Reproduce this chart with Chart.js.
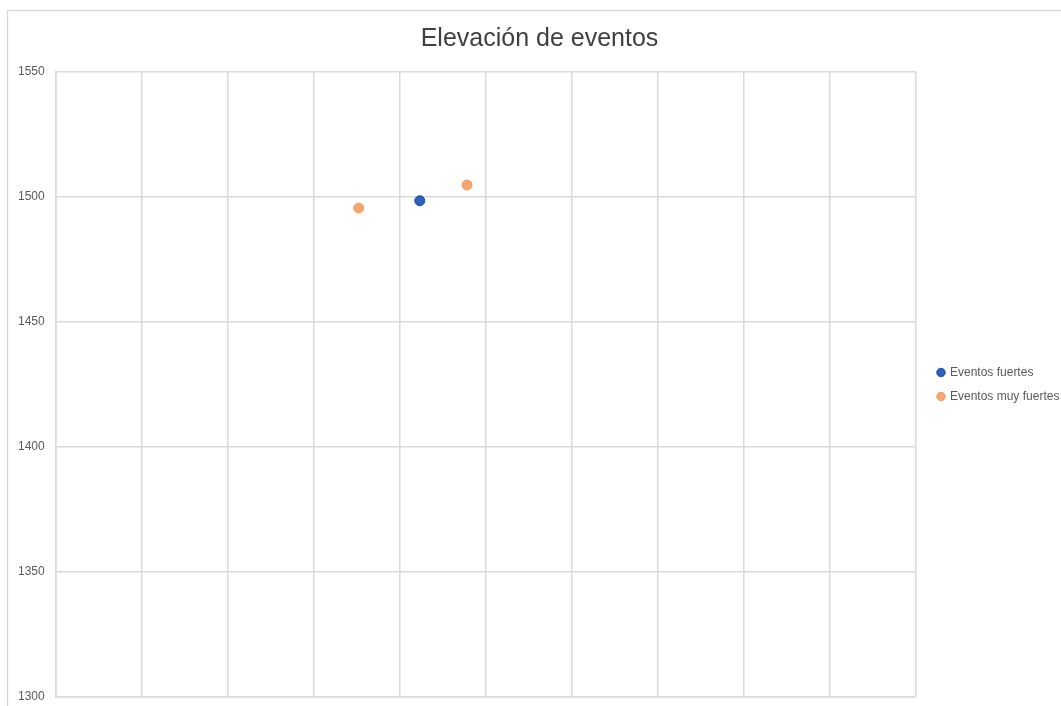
<!DOCTYPE html>
<html lang="es">
<head>
<meta charset="utf-8">
<title>Elevación de eventos</title>
<script src="https://cdn.jsdelivr.net/npm/chart.js@4.4.1/dist/chart.umd.min.js"></script>
<style>
  html, body { margin: 0; padding: 0; background: #ffffff; }
  canvas { display: block; }
</style>
</head>
<body>
<canvas id="elevacion" width="1061" height="706"></canvas>
<script>
// elevation per event (x = position, y = elevation)
const fuertesX = [4.23];
const fuertesY = [1498.5];
const muyFuertesX = [3.52, 4.78];
const muyFuertesY = [1495.6, 1504.8];
const yTicks = [1300, 1350, 1400, 1450, 1500, 1550];

const gridColor = "#d9d9d9";
const textColor = "#595959";
const fontFamily = "'Liberation Sans', Arial, sans-serif";

const toPoints = (xs, ys) => xs.map((x, i) => ({ x: x, y: ys[i] }));

// light frame around the whole chart
const chartFrame = {
  id: "chartFrame",
  beforeDraw(chart) {
    const ctx = chart.ctx;
    ctx.save();
    ctx.strokeStyle = "#d6d6d6";
    ctx.lineWidth = 1.3;
    ctx.strokeRect(7.5, 10.5, chart.width + 20, chart.height + 20);
    ctx.restore();
  },
};

const ctx = document.getElementById("elevacion").getContext("2d");

new Chart(ctx, {
  type: "scatter",
  data: {
    datasets: [
      {
        label: "Eventos fuertes",
        data: toPoints(fuertesX, fuertesY),
        backgroundColor: "#2e60b8",
        borderColor: "#224c98",
        borderWidth: 1,
        pointRadius: 5,
      },
      {
        label: "Eventos muy fuertes",
        data: toPoints(muyFuertesX, muyFuertesY),
        backgroundColor: "#f1a774",
        borderColor: "#eb9c66",
        borderWidth: 1,
        pointRadius: 5,
      },
    ],
  },
  options: {
    responsive: false,
    animation: false,
    layout: {
      padding: { left: 18, top: 0, right: 0, bottom: 9 },
    },
    plugins: {
      title: {
        display: true,
        text: "Elevación de eventos",
        color: "#404040",
        font: { family: fontFamily, size: 25, weight: "normal" },
        padding: { top: 24, bottom: 18 },
      },
      legend: {
        position: "right",
        fullSize: false,
        maxWidth: 135,
        labels: {
          usePointStyle: true,
          pointStyle: "circle",
          boxWidth: 6,
          boxHeight: 6,
          padding: 12,
          color: textColor,
          font: { family: fontFamily, size: 12 },
        },
      },
      tooltip: { enabled: false },
    },
    scales: {
      x: {
        type: "linear",
        min: 0,
        max: 10,
        ticks: { display: false, stepSize: 1 },
        grid: { color: gridColor, lineWidth: 1.5, drawTicks: false },
        border: { color: gridColor, width: 1.5 },
        afterFit: (scale) => {
          scale.height = 0;
        },
      },
      y: {
        min: yTicks[0],
        max: yTicks[yTicks.length - 1],
        afterBuildTicks: (scale) => {
          scale.ticks = yTicks.map((v) => ({ value: v }));
        },
        ticks: {
          padding: 0,
          crossAlign: "far",
          color: textColor,
          font: { family: fontFamily, size: 12 },
          callback: (value) => String(value),
        },
        grid: { color: gridColor, lineWidth: 1.5, drawTicks: false },
        border: { color: gridColor, width: 1.5 },
        afterFit: (scale) => {
          scale.width = 38;
        },
      },
      // empty strip between the plot and the legend
      gap: {
        type: "linear",
        position: "right",
        display: true,
        ticks: { display: false },
        grid: { display: false },
        border: { display: false },
        afterFit: (scale) => {
          scale.width = 10;
        },
      },
    },
  },
  plugins: [chartFrame],
});
</script>
</body>
</html>
